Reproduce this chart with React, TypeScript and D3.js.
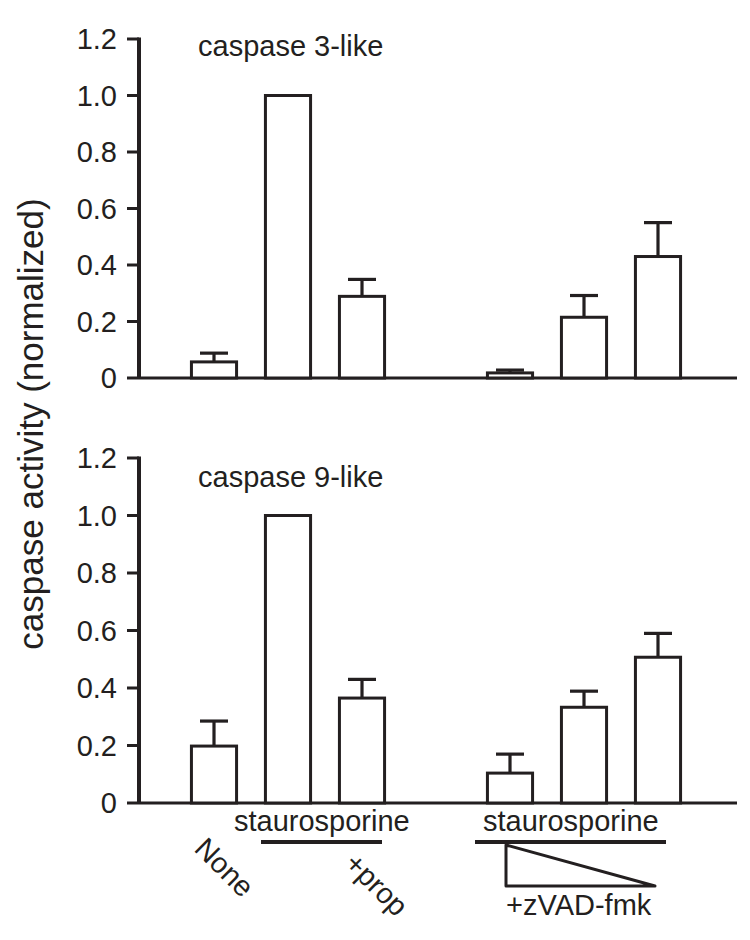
import React from "react";
import * as d3 from "d3";

// ---- data ----
const slots = ["None", "Stauro", "Stauro+prop", "gap", "zVAD-high", "zVAD-mid", "zVAD-low"];
const casp3Values = [0.057, 1.0, 0.289, null, 0.018, 0.215, 0.43];
const casp3Errors = [0.031, 0, 0.06, null, 0.01, 0.077, 0.12];
const casp9Values = [0.198, 1.0, 0.365, null, 0.104, 0.333, 0.507];
const casp9Errors = [0.087, 0, 0.065, null, 0.066, 0.056, 0.083];
const yTicks = [0, 0.2, 0.4, 0.6, 0.8, 1.0, 1.2];
const panelTitles = ["caspase 3-like", "caspase 9-like"];
const yLabel = "caspase activity (normalized)";

const INK = "#231f20";
const FONT = "'Liberation Sans', Arial, Helvetica, sans-serif";

const W = 750;
const H = 940;

const x = d3.scalePoint<string>().domain(slots).range([214, 658]);
const barW = x.step() * 0.61;

const axisX = 139;
const axisEnd = 737;

function Panel({ values, errors, y, title, titleY }: any) {
  const y0 = y(0);
  return (
    <g>
      {/* y axis */}
      <line x1={axisX} x2={axisX} y1={y(1.2) - 1.5} y2={y0 + 1} stroke={INK} strokeWidth={4} />
      {yTicks.map((t) => (
        <g key={t}>
          <line x1={axisX - 12} x2={axisX} y1={y(t)} y2={y(t)} stroke={INK} strokeWidth={3} />
          <text
            x={axisX - 22}
            y={y(t)}
            dy="0.36em"
            textAnchor="end"
            fontSize={29}
            fontFamily={FONT}
            fill={INK}
          >
            {t === 0 ? "0" : t.toFixed(1)}
          </text>
        </g>
      ))}
      {/* x axis */}
      <line x1={axisX} x2={axisEnd} y1={y0} y2={y0} stroke={INK} strokeWidth={3} />
      {/* bars */}
      {slots.map((s, i) => {
        const v = values[i];
        if (v === null) return null;
        const cx = x(s) as number;
        const e = errors[i];
        return (
          <g key={s}>
            {e > 0 && (
              <g stroke={INK} strokeWidth={3.2}>
                <line x1={cx} x2={cx} y1={y(v)} y2={y(v + e)} />
                <line x1={cx - 14} x2={cx + 14} y1={y(v + e)} y2={y(v + e)} />
              </g>
            )}
            <rect
              x={cx - barW / 2}
              y={y(v)}
              width={barW}
              height={y0 - y(v)}
              fill="#fff"
              stroke={INK}
              strokeWidth={3}
            />
          </g>
        );
      })}
      <text x={198} y={titleY} fontSize={29} fontFamily={FONT} fill={INK}>
        {title}
      </text>
    </g>
  );
}

export default function App() {
  const yTop = d3.scaleLinear().domain([0, 1.2]).range([378, 39]);
  const yBot = d3.scaleLinear().domain([0, 1.2]).range([803, 458]);

  return (
    <svg
      width={W}
      height={H}
      viewBox={`0 0 ${W} ${H}`}
      style={{ position: "absolute", left: 0, top: 0, background: "#fff" }}
    >
      <rect width={W} height={H} fill="#fff" />
      <Panel values={casp3Values} errors={casp3Errors} y={yTop} title={panelTitles[0]} titleY={56} />
      <Panel values={casp9Values} errors={casp9Errors} y={yBot} title={panelTitles[1]} titleY={487} />

      {/* y label */}
      <text
        transform={`translate(43, 424) rotate(-90)`}
        textAnchor="middle"
        fontSize={35}
        fontFamily={FONT}
        fill={INK}
      >
        {yLabel}
      </text>

      {/* x annotations */}
      <g fontFamily={FONT} fontSize={29} fill={INK}>
        <text x={234} y={831}>staurosporine</text>
        <text x={483} y={831}>staurosporine</text>
        <text transform="translate(193, 850) rotate(45)">None</text>
        <text transform="translate(343, 865) rotate(45)">+prop</text>
        <text x={506} y={915}>+zVAD-fmk</text>
      </g>
      <line
        x1={(x("Stauro") as number) - 27}
        x2={(x("Stauro+prop") as number) + 20}
        y1={842}
        y2={842}
        stroke={INK}
        strokeWidth={4}
      />
      <line
        x1={(x("zVAD-high") as number) - 35}
        x2={(x("zVAD-low") as number) + 8}
        y1={842}
        y2={842}
        stroke={INK}
        strokeWidth={4}
      />
      <path
        d={`M${(x("zVAD-high") as number) - 4},845 L${(x("zVAD-high") as number) - 4},886 L${(x("zVAD-low") as number) - 3},886 Z`}
        fill="none"
        stroke={INK}
        strokeWidth={3}
        strokeLinejoin="round"
      />
    </svg>
  );
}
